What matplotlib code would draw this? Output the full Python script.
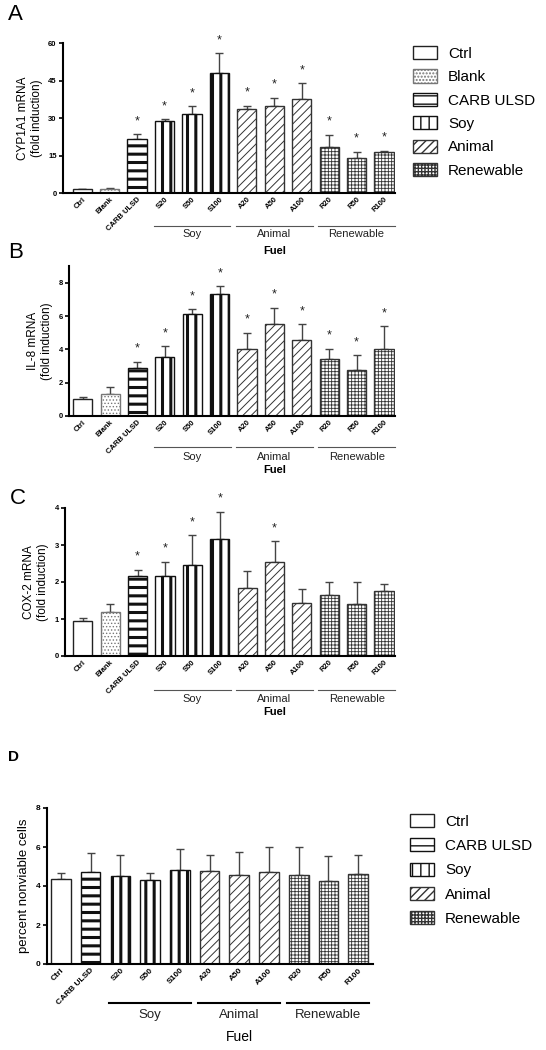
import numpy as np
import matplotlib
matplotlib.use('Agg')
import matplotlib.pyplot as plt
from matplotlib.patches import Patch
import matplotlib.transforms as mtransforms

plt.rcParams['font.family'] = ['Liberation Sans', 'DejaVu Sans']

# data
labels_abc = ['Ctrl', 'Blank', 'CARB ULSD', 'S20', 'S50', 'S100',
              'A20', 'A50', 'A100', 'R20', 'R50', 'R100']
kinds_abc = ['ctrl', 'blank', 'carb', 'soy', 'soy', 'soy',
             'animal', 'animal', 'animal', 'renew', 'renew', 'renew']

cyp_vals = [1.5, 1.5, 21.7, 29.0, 31.8, 48.0, 33.8, 35.0, 37.5, 18.5, 14.0, 16.5]
cyp_err = [0.3, 0.7, 1.8, 0.6, 3.0, 8.0, 1.2, 3.2, 6.5, 4.8, 2.5, 0.4]
cyp_star = [0, 0, 1, 1, 1, 1, 1, 1, 1, 1, 1, 1]

il8_vals = [1.05, 1.3, 2.9, 3.55, 6.1, 7.3, 4.05, 5.55, 4.55, 3.4, 2.75, 4.0]
il8_err = [0.08, 0.42, 0.35, 0.65, 0.3, 0.5, 0.95, 0.95, 0.95, 0.65, 0.9, 1.4]
il8_star = [0, 0, 1, 1, 1, 1, 1, 1, 1, 1, 1, 1]

cox_vals = [0.95, 1.2, 2.15, 2.15, 2.47, 3.15, 1.85, 2.55, 1.43, 1.65, 1.4, 1.75]
cox_err = [0.08, 0.2, 0.18, 0.4, 0.8, 0.75, 0.45, 0.55, 0.37, 0.35, 0.6, 0.2]
cox_star = [0, 0, 1, 1, 1, 1, 0, 1, 0, 0, 0, 0]

labels_d = ['Ctrl', 'CARB ULSD', 'S20', 'S50', 'S100',
            'A20', 'A50', 'A100', 'R20', 'R50', 'R100']
kinds_d = ['ctrl', 'carb', 'soy', 'soy', 'soy',
           'animal', 'animal', 'animal', 'renew', 'renew', 'renew']
nv_vals = [4.38, 4.72, 4.52, 4.32, 4.82, 4.75, 4.55, 4.72, 4.55, 4.28, 4.62]
nv_err = [0.3, 0.98, 1.08, 0.35, 1.1, 0.85, 1.2, 1.28, 1.45, 1.28, 0.98]

groups = ['Soy', 'Animal', 'Renewable']

# styles per treatment
style = {
    'ctrl':   dict(hatch='', ec='#222222', hlw=1.0),
    'blank':  dict(hatch='.....', ec='#777777', hlw=0.6),
    'carb':   dict(hatch='--', ec='#111111', hlw=2.2),
    'soy':    dict(hatch='||', ec='#111111', hlw=2.2),
    'animal': dict(hatch='////', ec='#333333', hlw=0.7),
    'renew':  dict(hatch='+++++', ec='#333333', hlw=0.6),
}
legend_names = {'ctrl': 'Ctrl', 'blank': 'Blank', 'carb': 'CARB ULSD',
                'soy': 'Soy', 'animal': 'Animal', 'renew': 'Renewable'}


def styled(patch, kind):
    s = style[kind]
    patch.set_hatch(s['hatch'])
    patch.set_edgecolor(s['ec'])
    patch.set_facecolor('white')
    if hasattr(patch, 'set_hatch_linewidth'):
        patch.set_hatch_linewidth(s['hlw'])


def panel(ax, labels, kinds, vals, errs, stars, ymax, yticks, ylabel,
          xlim, width, first_grp, line_y, lab_y, fuel_y, dpanel=False):
    x = np.arange(len(vals))
    bars = ax.bar(x, vals, width=width, linewidth=1.0, zorder=2)
    for b, k in zip(bars, kinds):
        styled(b, k)
        b.set_linewidth(1.0)
    ax.errorbar(x, vals, yerr=[np.zeros(len(errs)), errs], fmt='none',
                ecolor='#444444', elinewidth=1.0, capsize=3, capthick=1.0, zorder=1)
    if stars is not None:
        for xi, v, e, st in zip(x, vals, errs, stars):
            if st:
                ax.annotate('*', xy=(xi, v + e), xytext=(0, 5), textcoords='offset points',
                            ha='center', va='bottom', fontsize=9, color='#222222')
    ax.set_ylim(0, ymax)
    ax.set_xlim(*xlim)
    ax.set_yticks(yticks)
    ax.set_xticks(x)
    fs = 6 if dpanel else 5.5
    ax.set_xticklabels(labels, rotation=45, ha='right', rotation_mode='anchor',
                       fontsize=fs, fontweight='bold')
    for t in ax.get_yticklabels():
        t.set_fontsize(fs)
        t.set_fontweight('bold')
    ax.set_ylabel(ylabel, fontsize=9.5 if dpanel else 8.5, labelpad=4)
    for sp in ['top', 'right']:
        ax.spines[sp].set_visible(False)
    for sp in ['left', 'bottom']:
        ax.spines[sp].set_linewidth(1.5)
    ax.tick_params(axis='both', width=1.2, length=3, pad=1.5)
    ax.tick_params(axis='x', length=0, pad=2)

    trans = mtransforms.blended_transform_factory(ax.transData, ax.transAxes)
    for gi, g in enumerate(groups):
        i0 = first_grp + 3 * gi
        ax.plot([i0 - width / 2 - 0.05, i0 + 2 + width / 2 + 0.05], [line_y, line_y],
                transform=trans, clip_on=False,
                color='black' if dpanel else '#555555', lw=1.5 if dpanel else 0.8)
        ax.text(i0 + 1, lab_y, g, transform=trans, ha='center', va='center',
                fontsize=9.5 if dpanel else 8, color='#222222')
    mid = (first_grp + first_grp + 8) / 2
    ax.text(mid, fuel_y, 'Fuel', transform=trans, ha='center', va='center',
            fontsize=10 if dpanel else 8, fontweight='normal' if dpanel else 'bold')


fig = plt.figure(figsize=(5.46, 10.5), dpi=100)
W, H = 546.0, 1050.0


def add_axes(left, right, y0, top):
    return fig.add_axes([left / W, 1 - y0 / H, (right - left) / W, (y0 - top) / H])


axA = add_axes(63, 395, 193, 43)
panel(axA, labels_abc, kinds_abc, cyp_vals, cyp_err, cyp_star, 60, [0, 15, 30, 45, 60],
      'CYP1A1 mRNA\n(fold induction)', (-0.7, 11.4), 0.7, 3, -0.22, -0.275, -0.385)

axB = add_axes(69, 395, 416, 266)
panel(axB, labels_abc, kinds_abc, il8_vals, il8_err, il8_star, 9, [0, 2, 4, 6, 8],
      'IL-8 mRNA\n(fold induction)', (-0.5, 11.4), 0.7, 3, -0.207, -0.273, -0.36)

axC = add_axes(65, 395, 656, 508)
panel(axC, labels_abc, kinds_abc, cox_vals, cox_err, cox_star, 4, [0, 1, 2, 3, 4],
      'COX-2 mRNA\n(fold induction)', (-0.65, 11.4), 0.7, 3, -0.23, -0.29, -0.38)

axD = add_axes(47, 373, 964, 808)
panel(axD, labels_d, kinds_d, nv_vals, nv_err, None, 8, [0, 2, 4, 6, 8],
      'percent nonviable cells', (-0.47, 10.5), 0.66, 2, -0.25, -0.33, -0.47, dpanel=True)

# panel letters
fig.text(8 / W, 1 - 14 / H, 'A', fontsize=16, va='center', ha='left')
fig.text(8 / W, 1 - 253 / H, 'B', fontsize=16, va='center', ha='left')
fig.text(10 / W, 1 - 498 / H, 'C', fontsize=16, va='center', ha='left')
fig.text(8 / W, 1 - 757 / H, 'D', fontsize=11, fontweight='bold', va='center', ha='left')


def make_legend(kinds, top, left, spacing):
    handles = []
    for k in kinds:
        p = Patch(facecolor='white', edgecolor=style[k]['ec'], hatch=style[k]['hatch'],
                  linewidth=1.0, label=legend_names[k])
        if hasattr(p, 'set_hatch_linewidth'):
            p.set_hatch_linewidth(style[k]['hlw'])
        handles.append(p)
    fig.legend(handles=handles, loc='upper left', bbox_to_anchor=(left / W, 1 - top / H),
               frameon=False, fontsize=11, handlelength=1.6, handleheight=0.95,
               handletextpad=0.7, labelspacing=spacing, borderpad=0, borderaxespad=0)


make_legend(['ctrl', 'blank', 'carb', 'soy', 'animal', 'renew'], 46, 413, 0.56)
make_legend(['ctrl', 'carb', 'soy', 'animal', 'renew'], 814, 410, 0.62)

fig.savefig('out.png', dpi=100)
